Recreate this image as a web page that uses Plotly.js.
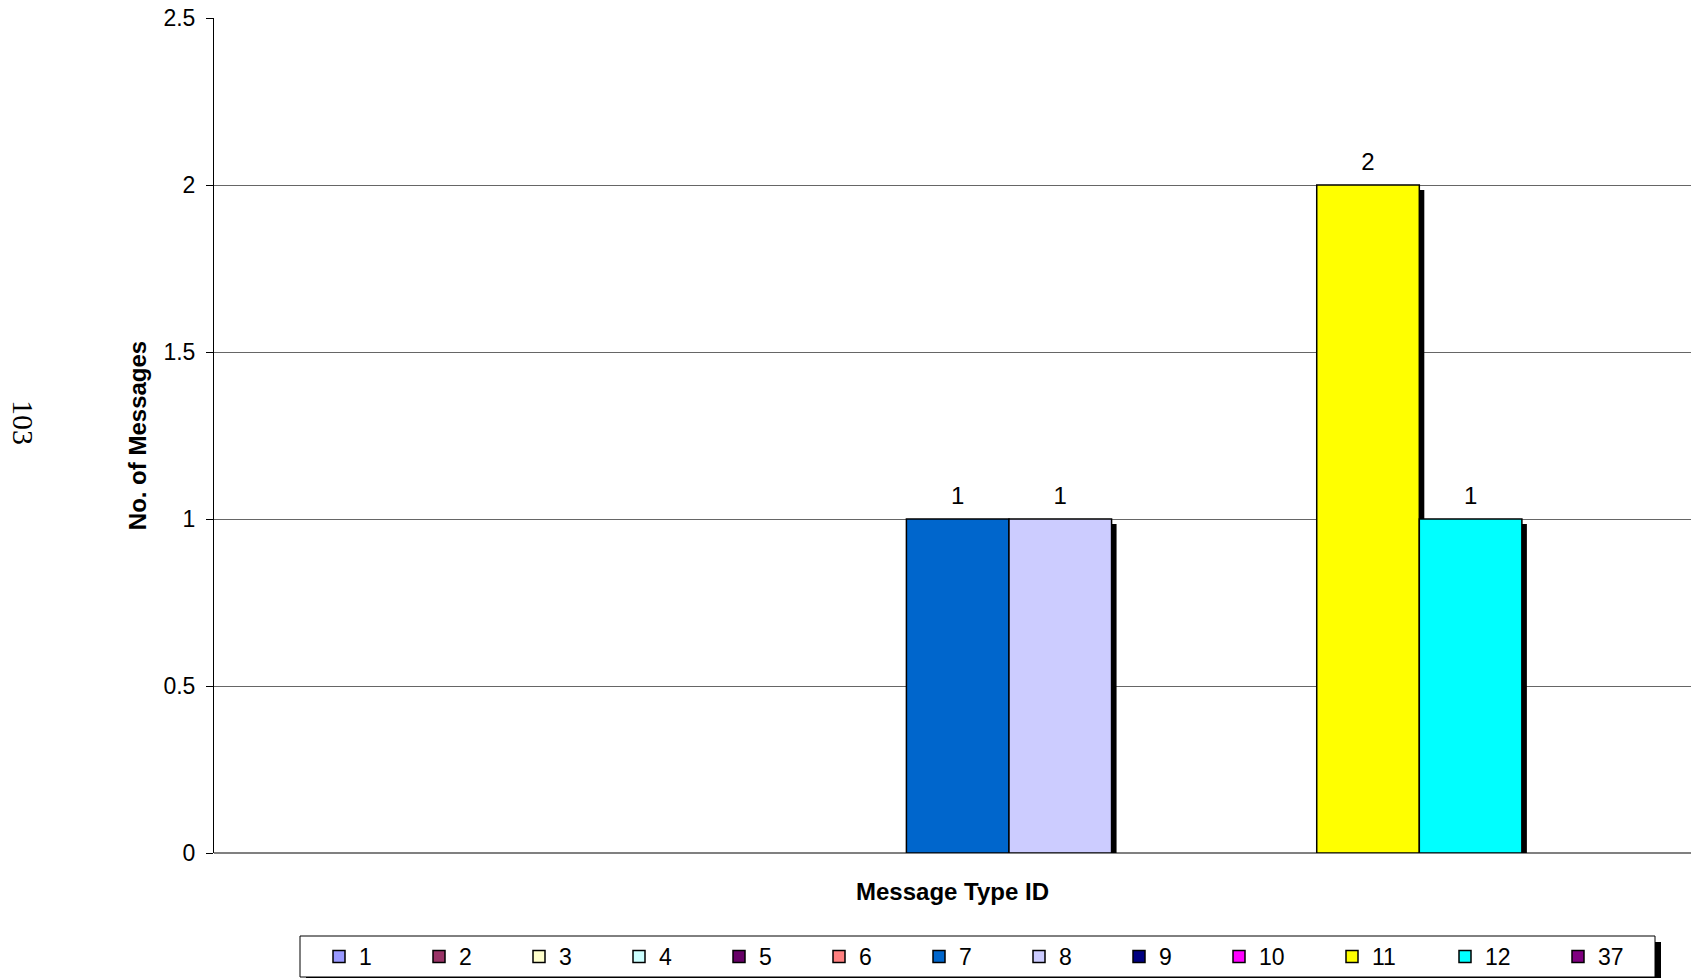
<!DOCTYPE html>
<html><head><meta charset="utf-8">
<script src="https://cdn.plot.ly/plotly-3.0.1.min.js"></script>
<style>html,body{margin:0;padding:0;background:#fff;}#chart{width:1691px;height:978px;}</style>
</head><body><div id="chart"></div>
<script>
// ---- data ----
const category = ['Messages'];
const seriesNames = ['1','2','3','4','5','6','7','8','9','10','11','12','37'];
const seriesValues = [null,null,null,null,null,null,1,1,null,null,2,1,null];
const seriesColors = ['#9999FF','#993366','#FFFFCC','#CCFFFF','#660066','#FF8080','#0066CC','#CCCCFF','#000080','#FF00FF','#FFFF00','#00FFFF','#800080'];
const yTickValues = [0,0.5,1,1.5,2,2.5];
const yTickLabels = ['0','0.5','1','1.5','2','2.5'];
const xTitle = 'Message Type ID';
const yTitle = 'No. of Messages';
const pageNote = '103';

// ---- layout constants ----
const FONT = 'Liberation Sans, Arial, sans-serif';
const W = 1691, H = 978;
const mL = 214, mR = 0, mT = 18, mB = 125;
const plotW = W - mL - mR, plotH = H - mT - mB;
const catPx = 1487.4;              // pixel width of the single category slot
const xr0 = -0.5, xr1 = -0.5 + plotW / catPx;
const yMax = 2.5;
const shadowPx = 5;
const dX = shadowPx / catPx, dY = shadowPx * yMax / plotH;
const px2x = p => (p - mL) / plotW;
const py2y = p => (H - mB - p) / plotH;
// label: value in 24px, plus a tiny spacer line that lifts it above the bar
const labelOf = v => v == null ? '' : '<span style="font-size:24px">' + v + '</span><br>\u00a0';

const traces = [];
// shadows (main axes, drawn underneath)
seriesNames.forEach((n, i) => {
  traces.push({
    type: 'bar', x: category, y: [seriesValues[i]], name: n,
    xaxis: 'x', yaxis: 'y', showlegend: false, hoverinfo: 'skip',
    marker: {color: '#000000', line: {width: 0}}
  });
});
// real bars (overlay axes)
seriesNames.forEach((n, i) => {
  const v = seriesValues[i];
  traces.push({
    type: 'bar', x: category, y: [v], name: n,
    xaxis: 'x2', yaxis: 'y2',
    marker: {color: seriesColors[i], line: {color: '#000000', width: 1.5}},
    text: [labelOf(v)], textposition: 'outside', cliponaxis: false,
    textfont: {family: FONT, size: 8, color: '#000000'},
    legendwidth: n.length > 1 ? 68 : 55
  });
});

const layout = {
  width: W, height: H,
  margin: {l: mL, r: mR, t: mT, b: mB, pad: 0},
  paper_bgcolor: '#ffffff', plot_bgcolor: '#ffffff',
  font: {family: FONT, size: 23, color: '#000000'},
  barmode: 'group', bargap: 1.5 / 14.5, bargroupgap: 0,
  showlegend: true,
  xaxis: {type: 'category', range: [xr0 - dX, xr1 - dX], visible: false, fixedrange: true},
  yaxis: {range: [dY, yMax + dY], visible: false, fixedrange: true},
  xaxis2: {type: 'category', overlaying: 'x', range: [xr0, xr1], showticklabels: false,
    showgrid: false, zeroline: false, showline: false, ticks: '',
    title: {text: xTitle, font: {family: FONT, size: 24, weight: 'bold'}, standoff: 30}},
  yaxis2: {overlaying: 'y', side: 'left', range: [0, yMax], tickvals: yTickValues, ticktext: yTickLabels,
    showgrid: true, gridcolor: '#666666', gridwidth: 1,
    zeroline: true, zerolinecolor: '#808080', zerolinewidth: 2.5,
    showline: true, linecolor: '#000000', linewidth: 1,
    ticks: 'outside', ticklen: 7, tickcolor: '#000000', tickfont: {family: FONT, size: 23},
    ticklabelstandoff: 6,
    title: {text: yTitle, font: {family: FONT, size: 24, weight: 'bold'}, standoff: 10}},
  legend: {orientation: 'h', xref: 'container', yref: 'container',
    x: 319 / W, xanchor: 'left', y: 1 - 956.5 / H, yanchor: 'middle',
    bgcolor: 'rgba(0,0,0,0)', borderwidth: 0, font: {family: FONT, size: 23},
    traceorder: 'normal'},
  shapes: [
    {type: 'rect', xref: 'paper', yref: 'paper', layer: 'above',
     x0: px2x(306), x1: px2x(1661), y0: py2y(942), y1: py2y(995),
     fillcolor: '#000000', line: {width: 0}},
    {type: 'rect', xref: 'paper', yref: 'paper', layer: 'above',
     x0: px2x(300), x1: px2x(1655), y0: py2y(936), y1: py2y(977),
     fillcolor: '#ffffff', line: {color: '#000000', width: 1}}
  ],
  annotations: [
    {text: pageNote, xref: 'paper', yref: 'paper', x: px2x(24), y: py2y(423),
     xanchor: 'center', yanchor: 'middle',
     showarrow: false, textangle: 90, font: {family: 'Liberation Serif, Times New Roman, serif', size: 30}}
  ]
};

Plotly.newPlot('chart', traces, layout, {displayModeBar: false, staticPlot: true});
</script>
</body></html>
